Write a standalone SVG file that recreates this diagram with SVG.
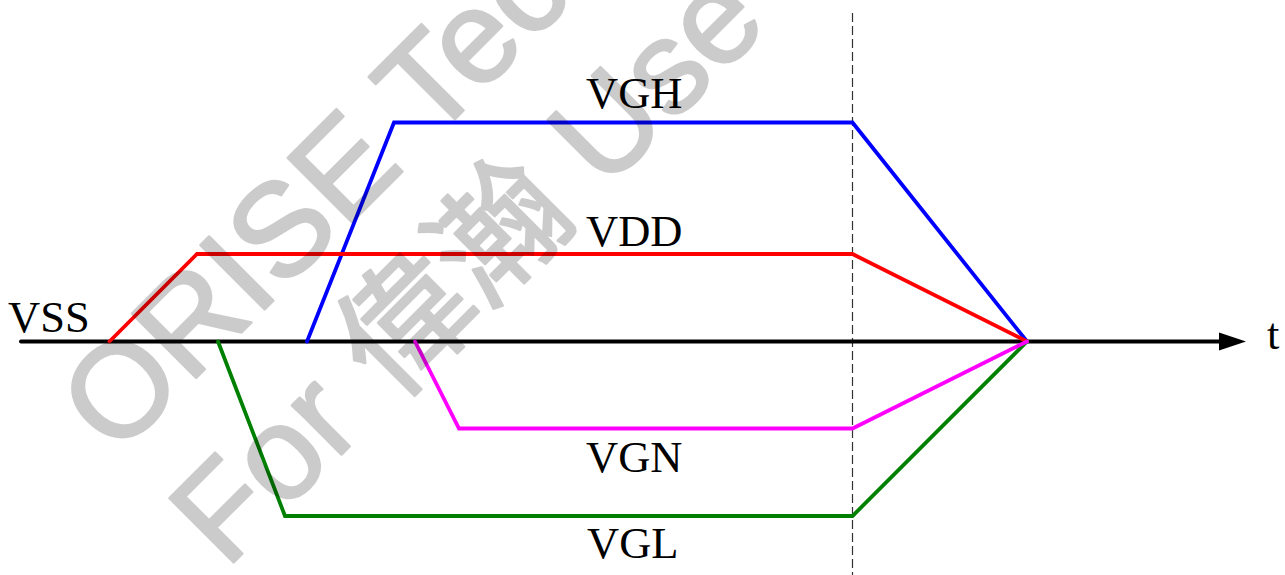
<svg xmlns="http://www.w3.org/2000/svg" width="1285" height="575" viewBox="0 0 1285 575">
  <style>
    .sig { fill: none; stroke-width: 3.8; stroke-linejoin: miter; stroke-linecap: round; }
    .lbl { font-family: "Liberation Serif", "Times New Roman", serif; font-size: 44.5px; fill: #000; }
    .wm { font-family: "Liberation Sans", Arial, "Noto Sans CJK TC", sans-serif; font-size: 132px; fill: #000; stroke: #000; stroke-width: 2.5; stroke-linejoin: round; }
  </style>
  <rect width="1285" height="575" fill="#fff"/>
  <g id="guide">
    <line x1="852.5" y1="13" x2="852.5" y2="575" stroke="#333" stroke-width="1.2" stroke-dasharray="9,4"/>
  </g>
  <g id="axis">
    <line x1="21" y1="341.5" x2="1224" y2="341.5" stroke="#000" stroke-width="4" stroke-linecap="round"/>
    <polygon points="1219,332.5 1246,341.5 1219,350.5" fill="#000"/>
    <text class="lbl" x="1267" y="349">t</text>
  </g>
  <g id="connectors">
    <polyline id="vgh-line" class="sig" stroke="#0000ff" points="307,341.5 394,122.5 852.5,122.5 1027,341.5"/>
    <polyline id="vdd-line" class="sig" stroke="#ff0000" points="109.5,341.5 197,254 852.5,254 1027,341.5"/>
    <polyline id="vgl-line" class="sig" stroke="#008000" points="218,341.5 285,516 852.5,516 1027,341.5"/>
    <polyline id="vgn-line" class="sig" stroke="#ff00ff" points="415,341.5 459,428.5 852.5,428.5 1027,341.5"/>
  </g>
  <g id="labels">
    <g id="vss"><text class="lbl" x="8" y="332">VSS</text></g>
    <g id="vgh"><text class="lbl" x="586" y="108">VGH</text></g>
    <g id="vdd"><text class="lbl" x="586" y="246">VDD</text></g>
    <g id="vgn"><text class="lbl" x="586" y="472">VGN</text></g>
    <g id="vgl"><text class="lbl" x="587" y="558">VGL</text></g>
  </g>
  <g id="watermark" opacity="0.2">
    <text class="wm" transform="translate(116,458) rotate(-45)">ORISE Tech</text>
    <text class="wm" transform="translate(226,570) rotate(-45)">For 偉瀚 Use</text>
  </g>
</svg>
